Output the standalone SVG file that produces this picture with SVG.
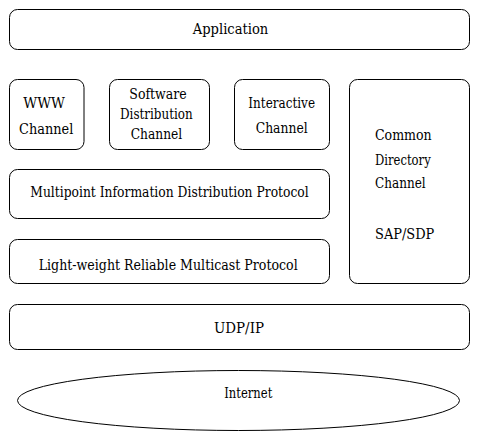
<svg xmlns="http://www.w3.org/2000/svg" width="486" height="446" viewBox="0 0 486 446">
<style>
.box{fill:#fff;stroke:#000;stroke-width:1}
.t{font-family:"DejaVu Serif",serif;font-size:14px;fill:#000}
</style>
<rect width="486" height="446" fill="#fff"/>
<g id="connectors"></g>
<g id="application">
<rect class="box" x="9.5" y="9.5" width="460" height="40" rx="8"/>
<text class="t" x="192.7" y="34" textLength="75.6" lengthAdjust="spacingAndGlyphs">Application</text>
</g>
<g id="www-channel">
<rect class="box" x="9.5" y="79.5" width="74.5" height="70" rx="8"/>
<text class="t" x="23.3" y="108.3" textLength="41.7" lengthAdjust="spacingAndGlyphs">WWW</text>
<text class="t" x="19" y="134" textLength="54.3" lengthAdjust="spacingAndGlyphs">Channel</text>
</g>
<g id="software-channel">
<rect class="box" x="109.5" y="79.5" width="100" height="70" rx="8"/>
<text class="t" x="129.3" y="99" textLength="57.4" lengthAdjust="spacingAndGlyphs">Software</text>
<text class="t" x="120" y="119.3" textLength="72.7" lengthAdjust="spacingAndGlyphs">Distribution</text>
<text class="t" x="130.7" y="139.3" textLength="51.6" lengthAdjust="spacingAndGlyphs">Channel</text>
</g>
<g id="interactive-channel">
<rect class="box" x="234.5" y="79.5" width="95" height="70" rx="8"/>
<text class="t" x="248.3" y="107.7" textLength="66.7" lengthAdjust="spacingAndGlyphs">Interactive</text>
<text class="t" x="255.7" y="132.7" textLength="52" lengthAdjust="spacingAndGlyphs">Channel</text>
</g>
<g id="common-directory">
<rect class="box" x="349.5" y="79.5" width="120" height="204" rx="8"/>
<text class="t" x="375" y="140" textLength="56.7" lengthAdjust="spacingAndGlyphs">Common</text>
<text class="t" x="375" y="164.5" textLength="55.7" lengthAdjust="spacingAndGlyphs">Directory</text>
<text class="t" x="375" y="188" textLength="50.7" lengthAdjust="spacingAndGlyphs">Channel</text>
<text class="t" x="375" y="239.3" textLength="59.3" lengthAdjust="spacingAndGlyphs">SAP/SDP</text>
</g>
<g id="midp">
<rect class="box" x="9.5" y="169.5" width="320" height="49" rx="8"/>
<text class="t" x="30.3" y="197.3" textLength="278.4" lengthAdjust="spacingAndGlyphs">Multipoint Information Distribution Protocol</text>
</g>
<g id="lrmp">
<rect class="box" x="9.5" y="239.5" width="320" height="44" rx="8"/>
<text class="t" x="38.7" y="270" textLength="259" lengthAdjust="spacingAndGlyphs">Light-weight Reliable Multicast Protocol</text>
</g>
<g id="udp-ip">
<rect class="box" x="9.5" y="304.5" width="460" height="45" rx="8"/>
<text class="t" x="214" y="333.3" textLength="50" lengthAdjust="spacingAndGlyphs">UDP/IP</text>
</g>
<g id="internet">
<ellipse class="box" cx="238.5" cy="400.5" rx="221" ry="30"/>
<text class="t" x="224.3" y="397.7" textLength="48" lengthAdjust="spacingAndGlyphs">Internet</text>
</g>
</svg>
